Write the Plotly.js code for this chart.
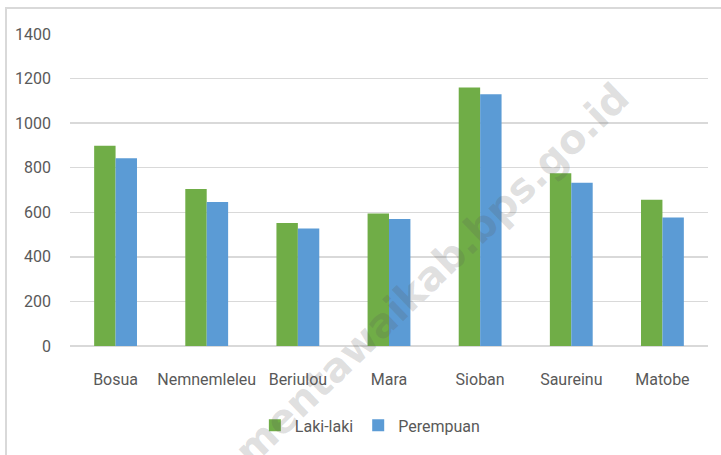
<!DOCTYPE html>
<html>
<head>
<meta charset="utf-8">
<script src="https://cdn.plot.ly/plotly-3.0.1.min.js"></script>
<style>
  html, body { margin: 0; padding: 0; background: #ffffff; }
  #frame { position: absolute; left: 5px; top: 7px; width: 716px; height: 448px;
           border-left: 2px solid #d9d9d9; border-top: 2px solid #d9d9d9; }
  #chart { position: absolute; left: 0; top: 0; width: 721px; height: 455px; }
</style>
</head>
<body>
<div id="frame"></div>
<div id="chart"></div>
<script>
  const villages = ["Bosua", "Nemnemleleu", "Beriulou", "Mara", "Sioban", "Saureinu", "Matobe"];
  const lakiLaki = [898, 704, 552, 594, 1160, 775, 656];
  const perempuan = [842, 646, 527, 570, 1130, 732, 577];
  const yTicks = [0, 200, 400, 600, 800, 1000, 1200, 1400];

  const fontFamily = 'Roboto, "DejaVu Sans", sans-serif';

  const traces = [
    { type: "bar", name: "Laki-laki", x: villages, y: lakiLaki,
      marker: { color: "#70ad47", line: { width: 0 } } },
    { type: "bar", name: "Perempuan", x: villages, y: perempuan,
      marker: { color: "#5b9bd5", line: { width: 0 } } }
  ];

  const layout = {
    width: 721,
    height: 455,
    paper_bgcolor: "rgba(0,0,0,0)",
    plot_bgcolor: "rgba(0,0,0,0)",
    margin: { l: 70, r: 13, t: 34, b: 107 },
    font: { family: fontFamily, color: "#595959", size: 16 },
    barmode: "group",
    bargap: 0.53,
    bargroupgap: 0,
    showlegend: true,
    legend: { orientation: "h", x: 0.47, xanchor: "center", y: -0.2, yanchor: "top",
              font: { size: 16, color: "#595959" }, itemwidth: 30 },
    xaxis: { type: "category", showgrid: false, zeroline: false, showline: false,
             ticks: "", ticklabelstandoff: 22, tickfont: { size: 16 } },
    yaxis: { range: [0, 1400], tickvals: yTicks, ticktext: yTicks.map(String),
             showgrid: true, gridcolor: "#d9d9d9", gridwidth: 1.5,
             zeroline: true, zerolinecolor: "#d9d9d9", zerolinewidth: 1.5,
             showline: false, ticks: "", ticklabelstandoff: 18, tickfont: { size: 16 } },
    annotations: [
      { text: "<b>mentawaikab.bps.go.id</b>", xref: "paper", yref: "paper",
        x: (432 - 70) / 638, y: (348 - 276) / 314, xanchor: "center", yanchor: "middle",
        showarrow: false, textangle: -44,
        font: { family: '"DejaVu Sans", sans-serif', size: 40, color: "rgba(90,90,90,0.2)" } }
    ]
  };

  Plotly.newPlot("chart", traces, layout, { displayModeBar: false, staticPlot: true });
</script>
</body>
</html>
